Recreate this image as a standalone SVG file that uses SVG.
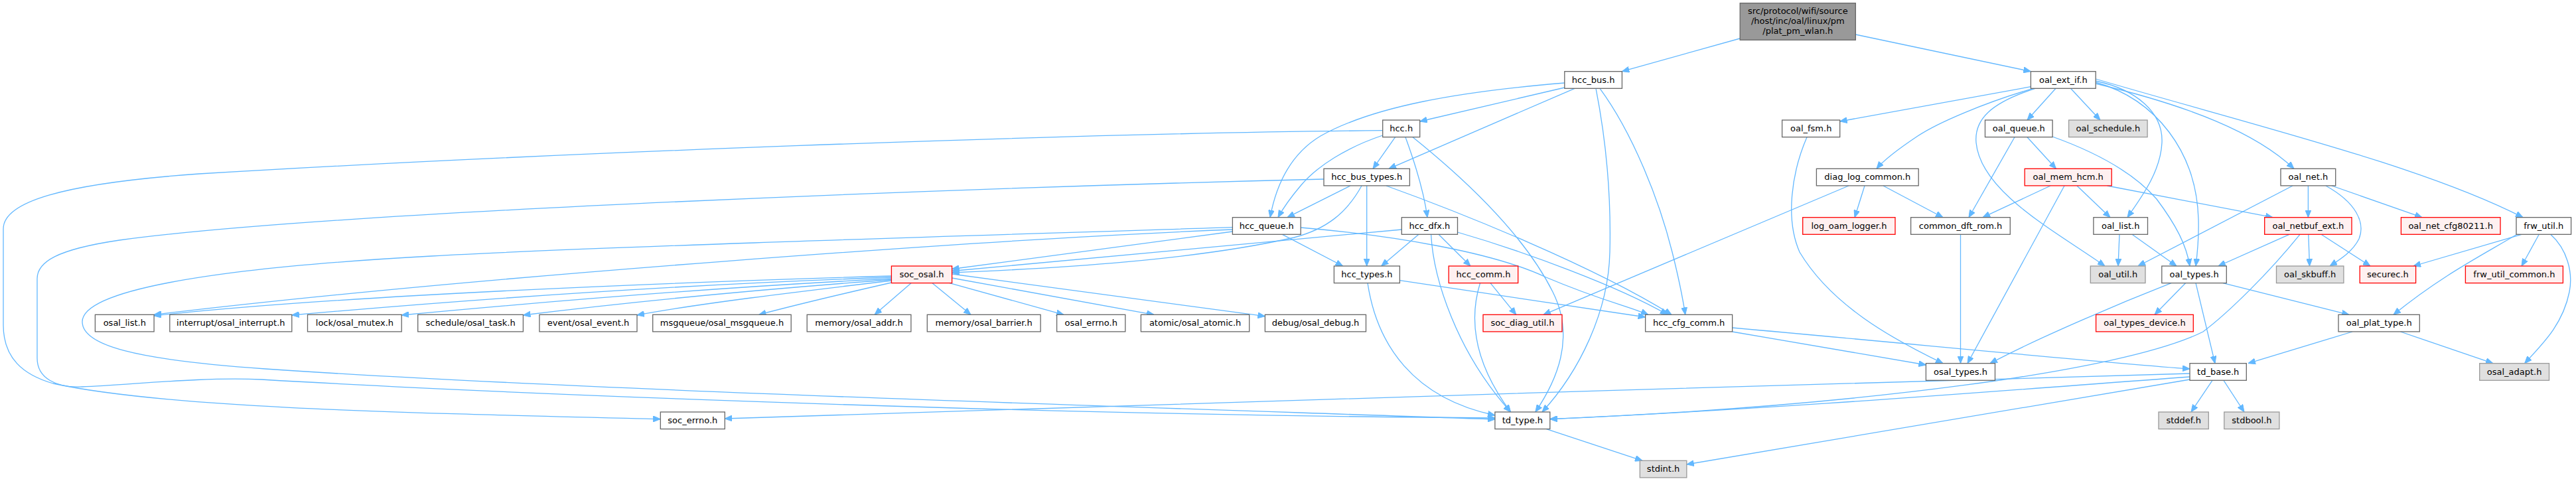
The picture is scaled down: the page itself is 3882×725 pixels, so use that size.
<svg xmlns="http://www.w3.org/2000/svg" width="3882" height="725" viewBox="0 0 3882 725">
<style>
rect{stroke-width:1.3}
.n rect{fill:#ffffff;stroke:#666666}
.g rect{fill:#e0e0e0;stroke:#999999}
.r rect{fill:#fff0f0;stroke:#ff0000}
.t rect{fill:#999999;stroke:#666666}
text{font-family:"DejaVu Sans","Liberation Sans",sans-serif;font-size:13px;text-anchor:middle;fill:#000000}
#edges path{fill:none;stroke:#63b8ff;stroke-width:1.3;marker-end:url(#a)}
</style>
<defs>
<marker id="a" markerWidth="11" markerHeight="9" refX="11" refY="4.5" orient="auto" markerUnits="userSpaceOnUse"><path d="M0,0 L11,4.5 L0,9 z" fill="#63b8ff" stroke="#63b8ff" stroke-width="1"/></marker>
</defs>
<rect x="0" y="0" width="3882" height="725" fill="#ffffff"/>
<g id="edges">
<path d="M2622,58 L2444.4,107.7"/>
<path d="M2796.3,52 L3060.4,107.7"/>
<path d="M2357.8,132 L2139.7,183"/>
<path d="M2357.8,125 C2200,138 2070,160 1990,205 C1940,235 1922,285 1914,327.7"/>
<path d="M2373,133.3 L2093,254.3"/>
<path d="M2405,133.3 C2422,220 2428,300 2426,380 C2424,470 2380,560 2324,621"/>
<path d="M2411,133.3 C2460,200 2500,300 2520,380 C2530,420 2536,450 2539.7,474.3"/>
<path d="M2083.7,204 C2030,222 1985,250 1960,280 C1943,300 1933,315 1926,327.7"/>
<path d="M2102.6,206.7 L2069,254.3"/>
<path d="M2118,206.7 C2132,245 2146,290 2151,327.7"/>
<path d="M2129,206.7 C2220,280 2300,360 2340,440 C2375,510 2345,575 2313.8,621"/>
<path d="M2083.7,196.7 C1600,201 800,232 300,262 C90,277 5,305 5,345 L5,490 C5,540 35,565 80,578 C250,615 600,622 995.3,631.7"/>
<path d="M2034.8,280 L1940,327.7"/>
<path d="M2052,280 C2030,320 2000,345 1950,358 C1800,392 1600,404 1434.6,411"/>
<path d="M2059.7,280 L2059.7,401"/>
<path d="M2089,280 C2200,320 2400,400 2519,474.3"/>
<path d="M1995,270 C1500,282 500,318 180,362 C85,376 56,395 56,420 L56,540 C56,570 85,585 124,583 C200,580 300,568 394,572 C700,590 1500,625 2252.9,630"/>
<path d="M1857.4,349 L1434.6,405.5"/>
<path d="M1857.4,346 C1500,360 700,418 232.1,474.3"/>
<path d="M1932.4,353.3 L2023.6,401"/>
<path d="M1960.2,343 C2100,355 2250,380 2330,418 C2410,452 2455,462 2483.8,474.3"/>
<path d="M1857.4,342.7 C1500,354 900,372 650,386 C300,405 124,440 124,485 C124,520 200,542 400,556 C900,590 1800,616 2252.9,632"/>
<path d="M2112.3,346 L1434.6,408.5"/>
<path d="M2138,353.3 L2081.7,401"/>
<path d="M2156.6,353.3 C2160,420 2195,530 2276.5,621"/>
<path d="M2168,353.3 L2216,401"/>
<path d="M2196.5,350 C2300,380 2440,432 2513,474.3"/>
<path d="M2061,426.7 C2075,520 2130,600 2252.9,626"/>
<path d="M2109.4,422.7 L2479.6,478"/>
<path d="M2246,426.7 L2284.8,474.3"/>
<path d="M2230.5,426.7 C2214,480 2220,545 2276.5,621"/>
<path d="M1343.4,416 C1000,426 500,446 232.1,476"/>
<path d="M1343.4,418 C1000,430 700,452 439.8,475"/>
<path d="M1343.4,420 C1100,432 850,452 605.2,475"/>
<path d="M1343.4,421.5 C1150,436 950,455 788.4,475"/>
<path d="M1343.4,423 C1200,440 1050,458 960,475"/>
<path d="M1343.4,426 C1260,445 1190,462 1143.6,474.3"/>
<path d="M1373,426.7 L1318,474.3"/>
<path d="M1405,426.7 L1463,474.3"/>
<path d="M1431,426.7 L1603,474.3"/>
<path d="M1434.6,419 L1739,474.3"/>
<path d="M1434.6,413 L1906.4,476.7"/>
<path d="M3060.4,130.7 L2772.7,183"/>
<path d="M3064,133.3 C2990,155 2920,185 2890,205 C2860,225 2840,240 2828,254.3"/>
<path d="M3067,133.3 C3000,155 2975,180 2978,215 C2985,290 3100,350 3172,401"/>
<path d="M3098,133.3 L3055,181"/>
<path d="M3120.5,133.3 L3165,181"/>
<path d="M3158.2,122 C3220,135 3260,170 3258,215 C3256,260 3225,300 3206,327.7"/>
<path d="M3158.2,124 C3250,150 3310,230 3313,330 C3314,360 3311,385 3309,401"/>
<path d="M3158.2,126 C3300,160 3400,200 3457,254.3"/>
<path d="M3158.2,119 C3400,190 3650,250 3802,327.7"/>
<path d="M2723,206.7 C2700,260 2690,330 2712,380 C2760,460 2850,510 2928,547.7"/>
<path d="M3055,206.7 L3098.5,254.3"/>
<path d="M3036,206.7 L2967,327.7"/>
<path d="M3093.1,206 C3160,230 3215,260 3250,300 C3280,340 3295,370 3300,401"/>
<path d="M2810,280 L2795,327.7"/>
<path d="M2838,280 L2928,327.7"/>
<path d="M2786,280 L2326,474.3"/>
<path d="M3090,280 L2988,327.7"/>
<path d="M3111,280 L2965,547.7"/>
<path d="M3130,280 L3180,327.7"/>
<path d="M3175.6,280 L3425,327.7"/>
<path d="M2954.5,353.3 L2954.5,547.7"/>
<path d="M3194,353.3 L3192,401"/>
<path d="M3213,353.3 L3280,401"/>
<path d="M3455,280 L3222,401"/>
<path d="M3478.4,280 L3478.4,327.7"/>
<path d="M3505,280 C3550,305 3565,335 3555,360 C3545,380 3525,392 3511,401"/>
<path d="M3514,280 L3650,327.7"/>
<path d="M3450,353.3 L3343,401"/>
<path d="M3466,353.3 C3420,410 3360,470 3320,500 C3200,560 2800,612 2335.8,631.7"/>
<path d="M3478.8,353.3 L3480.5,401"/>
<path d="M3498,353.3 L3572,401"/>
<path d="M3800,353.3 L3637,401"/>
<path d="M3793,353.3 C3740,385 3680,415 3607,474.3"/>
<path d="M3826.3,353.3 L3800,401"/>
<path d="M3843.7,353.3 C3868,375 3878,410 3872,440 C3862,490 3830,520 3804.6,547.7"/>
<path d="M3272,426.7 C3200,455 3080,505 2999,547.7"/>
<path d="M3293.5,426.7 L3247,474.3"/>
<path d="M3309,426.7 L3338,547.7"/>
<path d="M3350,426.7 L3540,474.3"/>
<path d="M3545,500 L3388,547.7"/>
<path d="M3617.5,500 L3757,547.7"/>
<path d="M2610.6,500 L2902.4,550"/>
<path d="M2610.6,494 C2900,520 3150,545 3300,556"/>
<path d="M3334,573.3 L3302,621"/>
<path d="M3351,573.3 L3382,621"/>
<path d="M3300,568 C3000,590 2700,615 2335.8,631.7"/>
<path d="M3300,563 C2600,585 1500,612 1092.3,631"/>
<path d="M3300,572 L2541.8,700"/>
<path d="M2330.4,646.7 L2475,694.3"/>
</g>
<g id="n0" class="t"><rect x="2622.2" y="4.7" width="174.1" height="55.6"/><text x="2709.3" y="20.7">src/protocol/wifi/source</text><text x="2709.3" y="35.7">/host/inc/oal/linux/pm</text><text x="2709.3" y="50.7">/plat_pm_wlan.h</text></g>
<g id="n1" class="n"><rect x="2357.8" y="107.7" width="86.6" height="25.6"/><text x="2401.1" y="124.7">hcc_bus.h</text></g>
<g id="n2" class="n"><rect x="3060.4" y="107.7" width="97.8" height="25.6"/><text x="3109.3" y="124.7">oal_ext_if.h</text></g>
<g id="n3" class="n"><rect x="2083.7" y="181" width="56" height="25.6"/><text x="2111.7" y="198">hcc.h</text></g>
<g id="n4" class="n"><rect x="2685.6" y="181" width="87.1" height="25.6"/><text x="2729.2" y="198">oal_fsm.h</text></g>
<g id="n5" class="n"><rect x="2991.5" y="181" width="101.6" height="25.6"/><text x="3042.3" y="198">oal_queue.h</text></g>
<g id="n6" class="g"><rect x="3117.6" y="181" width="118.5" height="25.6"/><text x="3176.9" y="198">oal_schedule.h</text></g>
<g id="n7" class="n"><rect x="1995" y="254.3" width="129.4" height="25.6"/><text x="2059.7" y="271.3">hcc_bus_types.h</text></g>
<g id="n8" class="n"><rect x="2737.4" y="254.3" width="153.8" height="25.6"/><text x="2814.3" y="271.3">diag_log_common.h</text></g>
<g id="n9" class="r"><rect x="3051.2" y="254.3" width="131" height="25.6"/><text x="3116.7" y="271.3">oal_mem_hcm.h</text></g>
<g id="n10" class="n"><rect x="3437" y="254.3" width="82.7" height="25.6"/><text x="3478.4" y="271.3">oal_net.h</text></g>
<g id="n11" class="n"><rect x="1857.4" y="327.7" width="102.8" height="25.6"/><text x="1908.8" y="344.7">hcc_queue.h</text></g>
<g id="n12" class="n"><rect x="2112.3" y="327.7" width="84.2" height="25.6"/><text x="2154.4" y="344.7">hcc_dfx.h</text></g>
<g id="n13" class="r"><rect x="2716.7" y="327.7" width="139.3" height="25.6"/><text x="2786.4" y="344.7">log_oam_logger.h</text></g>
<g id="n14" class="n"><rect x="2879.6" y="327.7" width="149.7" height="25.6"/><text x="2954.5" y="344.7">common_dft_rom.h</text></g>
<g id="n15" class="n"><rect x="3154.9" y="327.7" width="81.6" height="25.6"/><text x="3195.7" y="344.7">oal_list.h</text></g>
<g id="n16" class="r"><rect x="3412.7" y="327.7" width="131.3" height="25.6"/><text x="3478.4" y="344.7">oal_netbuf_ext.h</text></g>
<g id="n17" class="r"><rect x="3618.4" y="327.7" width="149.6" height="25.6"/><text x="3693.2" y="344.7">oal_net_cfg80211.h</text></g>
<g id="n18" class="n"><rect x="3792" y="327.7" width="82.6" height="25.6"/><text x="3833.3" y="344.7">frw_util.h</text></g>
<g id="n19" class="r"><rect x="1343.4" y="401" width="91.2" height="25.6"/><text x="1389" y="418">soc_osal.h</text></g>
<g id="n20" class="n"><rect x="2010.4" y="401" width="99" height="25.6"/><text x="2059.9" y="418">hcc_types.h</text></g>
<g id="n21" class="r"><rect x="2183.2" y="401" width="104.5" height="25.6"/><text x="2235.5" y="418">hcc_comm.h</text></g>
<g id="n22" class="g"><rect x="3150.3" y="401" width="82.7" height="25.6"/><text x="3191.7" y="418">oal_util.h</text></g>
<g id="n23" class="n"><rect x="3257.8" y="401" width="97.5" height="25.6"/><text x="3306.6" y="418">oal_types.h</text></g>
<g id="n24" class="g"><rect x="3430.5" y="401" width="101.4" height="25.6"/><text x="3481.2" y="418">oal_skbuff.h</text></g>
<g id="n25" class="r"><rect x="3556.2" y="401" width="84.4" height="25.6"/><text x="3598.4" y="418">securec.h</text></g>
<g id="n26" class="r"><rect x="3715.4" y="401" width="147" height="25.6"/><text x="3788.9" y="418">frw_util_common.h</text></g>
<g id="n27" class="n"><rect x="143.4" y="474.3" width="88.7" height="25.6"/><text x="187.8" y="491.3">osal_list.h</text></g>
<g id="n28" class="n"><rect x="255.8" y="474.3" width="184" height="25.6"/><text x="347.8" y="491.3">interrupt/osal_interrupt.h</text></g>
<g id="n29" class="n"><rect x="463.5" y="474.3" width="141.7" height="25.6"/><text x="534.4" y="491.3">lock/osal_mutex.h</text></g>
<g id="n30" class="n"><rect x="629.7" y="474.3" width="158.7" height="25.6"/><text x="709.1" y="491.3">schedule/osal_task.h</text></g>
<g id="n31" class="n"><rect x="812.9" y="474.3" width="147.1" height="25.6"/><text x="886.5" y="491.3">event/osal_event.h</text></g>
<g id="n32" class="n"><rect x="983.7" y="474.3" width="208.5" height="25.6"/><text x="1088" y="491.3">msgqueue/osal_msgqueue.h</text></g>
<g id="n33" class="n"><rect x="1216.2" y="474.3" width="156.7" height="25.6"/><text x="1294.6" y="491.3">memory/osal_addr.h</text></g>
<g id="n34" class="n"><rect x="1397.3" y="474.3" width="170.8" height="25.6"/><text x="1482.7" y="491.3">memory/osal_barrier.h</text></g>
<g id="n35" class="n"><rect x="1592.6" y="474.3" width="103.2" height="25.6"/><text x="1644.2" y="491.3">osal_errno.h</text></g>
<g id="n36" class="n"><rect x="1719.4" y="474.3" width="163.3" height="25.6"/><text x="1801.1" y="491.3">atomic/osal_atomic.h</text></g>
<g id="n37" class="n"><rect x="1906.4" y="474.3" width="152.1" height="25.6"/><text x="1982.5" y="491.3">debug/osal_debug.h</text></g>
<g id="n38" class="r"><rect x="2235" y="474.3" width="119" height="25.6"/><text x="2294.5" y="491.3">soc_diag_util.h</text></g>
<g id="n39" class="n"><rect x="2479.6" y="474.3" width="131" height="25.6"/><text x="2545.1" y="491.3">hcc_cfg_comm.h</text></g>
<g id="n40" class="r"><rect x="3158.6" y="474.3" width="146.7" height="25.6"/><text x="3232" y="491.3">oal_types_device.h</text></g>
<g id="n41" class="n"><rect x="3524" y="474.3" width="122.3" height="25.6"/><text x="3585.2" y="491.3">oal_plat_type.h</text></g>
<g id="n42" class="n"><rect x="2902.4" y="547.7" width="104.1" height="25.6"/><text x="2954.5" y="564.7">osal_types.h</text></g>
<g id="n43" class="n"><rect x="3300" y="547.7" width="85.3" height="25.6"/><text x="3342.7" y="564.7">td_base.h</text></g>
<g id="n44" class="g"><rect x="3736.7" y="547.7" width="104.8" height="25.6"/><text x="3789.1" y="564.7">osal_adapt.h</text></g>
<g id="n45" class="n"><rect x="995.3" y="621" width="97" height="25.6"/><text x="1043.8" y="638">soc_errno.h</text></g>
<g id="n46" class="n"><rect x="2252.9" y="621" width="82.9" height="25.6"/><text x="2294.4" y="638">td_type.h</text></g>
<g id="n47" class="g"><rect x="3253" y="621" width="75.3" height="25.6"/><text x="3290.7" y="638">stddef.h</text></g>
<g id="n48" class="g"><rect x="3351.8" y="621" width="83.1" height="25.6"/><text x="3393.4" y="638">stdbool.h</text></g>
<g id="n49" class="g"><rect x="2471.3" y="694.3" width="70.5" height="25.6"/><text x="2506.6" y="711.3">stdint.h</text></g>
</svg>
